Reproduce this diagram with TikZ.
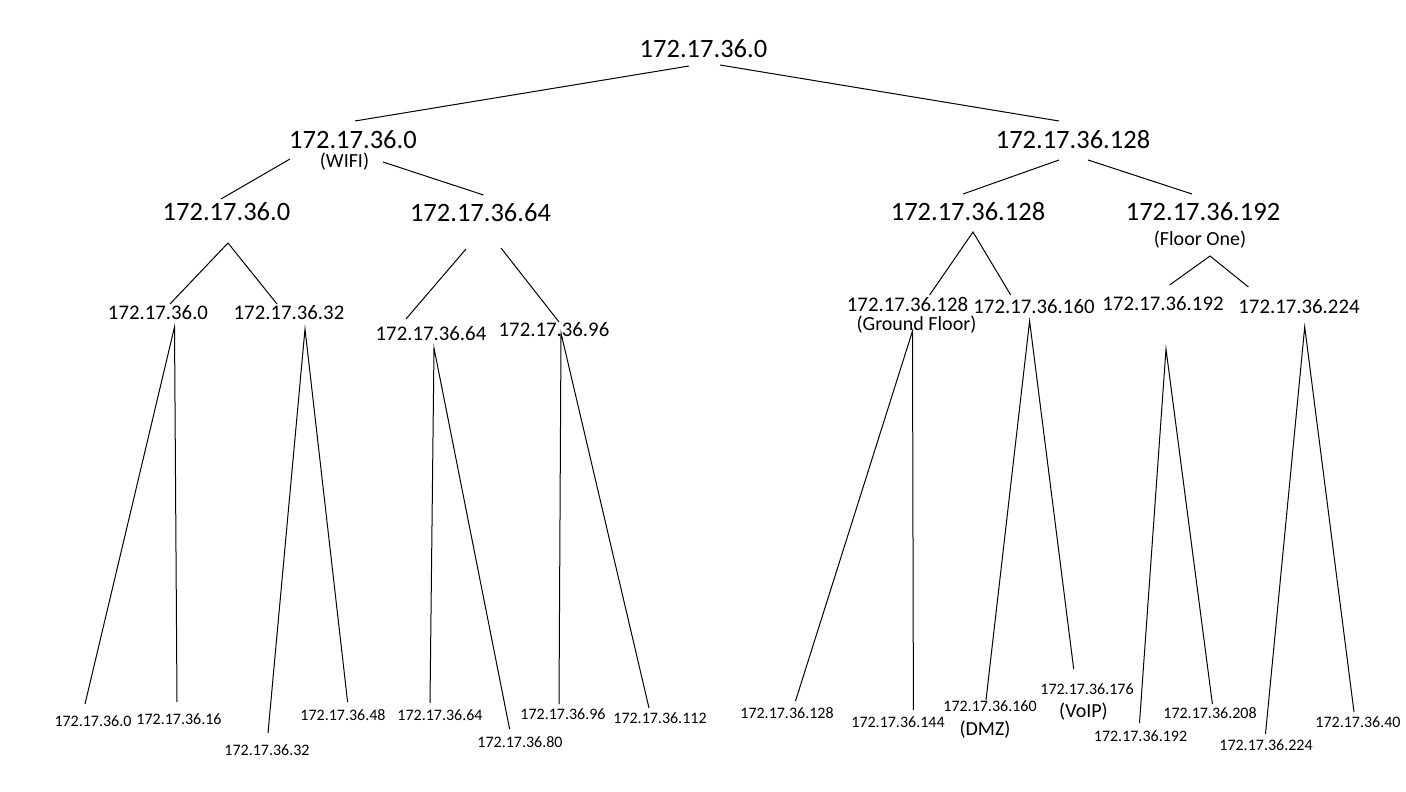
\documentclass[tikz,border=0pt]{standalone}
\usepackage{fontspec}
\setmainfont{Carlito}
\begin{document}
\begin{tikzpicture}[x=1pt,y=-1pt,
  big/.style={anchor=base,inner sep=0pt,font=\fontsize{26.5}{30}\selectfont},
  mid/.style={anchor=base,inner sep=0pt,font=\fontsize{20.8}{24}\selectfont},
  sml/.style={anchor=base,inner sep=0pt,font=\fontsize{16}{19}\selectfont},
  tag/.style={anchor=base,inner sep=0pt,font=\fontsize{20}{24}\selectfont},
  edge/.style={draw=black,line width=1pt}]
\useasboundingbox (0,0) rectangle (1406,792);
% --- text nodes ---
\node[big] (root) at (703.5,57.3) {172.17.36.0};
\node[big] (a) at (353,148) {172.17.36.0};
\node[tag] (wifi) at (344.5,167) {(WIFI)};
\node[big] (b) at (1073,148) {172.17.36.128};
\node[big] (aa) at (226.5,220) {172.17.36.0};
\node[big] (ab) at (480.5,221.7) {172.17.36.64};
\node[big] (ba) at (968,220.7) {172.17.36.128};
\node[big] (bb) at (1203,220.7) {172.17.36.192};
\node[tag] (floor1) at (1200,245.5) {(Floor One)};
\node[mid] (aaa) at (158,319) {172.17.36.0};
\node[mid] (aab) at (289,319) {172.17.36.32};
\node[mid] (aba) at (431,340) {172.17.36.64};
\node[mid] (abb) at (554,336) {172.17.36.96};
\node[mid] (baa) at (907.5,311.5) {172.17.36.128};
\node[tag] (ground) at (916.5,330.5) {(Ground Floor)};
\node[mid] (bab) at (1034,313) {172.17.36.160};
\node[mid] (bba) at (1163,310) {172.17.36.192};
\node[mid] (bbb) at (1299,313) {172.17.36.224};
% leaves
\node[sml] (l1) at (93,726) {172.17.36.0};
\node[sml] (l2) at (179,724) {172.17.36.16};
\node[sml] (l3) at (267,755) {172.17.36.32};
\node[sml] (l4) at (343,720) {172.17.36.48};
\node[sml] (l5) at (440,720) {172.17.36.64};
\node[sml] (l6) at (520,747) {172.17.36.80};
\node[sml] (l7) at (563,719) {172.17.36.96};
\node[sml] (l8) at (660,723) {172.17.36.112};
\node[sml] (l9) at (787,718) {172.17.36.128};
\node[sml] (l10) at (898,727) {172.17.36.144};
\node[sml] (l11) at (990,711.5) {172.17.36.160};
\node[tag] (dmz) at (985,735) {(DMZ)};
\node[sml] (l12) at (1087,694) {172.17.36.176};
\node[tag] (voip) at (1083.5,717) {(VoIP)};
\node[sml] (l13) at (1140.5,741.5) {172.17.36.192};
\node[sml] (l14) at (1210,718) {172.17.36.208};
\node[sml] (l15) at (1266,750.5) {172.17.36.224};
\node[sml] (l16) at (1358,727) {172.17.36.40};
% --- connector end points ---
\coordinate (rootL) at (689,66);   \coordinate (aT) at (355,121);
\coordinate (rootR) at (720,65);   \coordinate (bT) at (1059,121);
\coordinate (aL) at (290,159);     \coordinate (aaT) at (221,199);
\coordinate (aR) at (383,162);     \coordinate (abT) at (483.5,195);
\coordinate (bL) at (1059,160);    \coordinate (baT) at (963,194);
\coordinate (bR) at (1088,160);    \coordinate (bbT) at (1192,194);
\coordinate (aaB) at (228,243);    \coordinate (aaaT) at (170,304); \coordinate (aabT) at (277,304);
\coordinate (abBL) at (466,249);   \coordinate (abaT) at (406,319);
\coordinate (abBR) at (501,248);   \coordinate (abbT) at (559,322);
\coordinate (baB) at (973,232);    \coordinate (baaT) at (929.6,295); \coordinate (babT) at (1010.7,295);
\coordinate (bbB) at (1210,256);   \coordinate (bbaT) at (1169.6,285); \coordinate (bbbT) at (1248.4,287);
\coordinate (aaaB) at (174.5,327); \coordinate (l1T) at (85,704);   \coordinate (l2T) at (177,702);
\coordinate (aabB) at (305,329);   \coordinate (l3T) at (268,733);  \coordinate (l4T) at (347.6,702);
\coordinate (abaB) at (434,348);   \coordinate (l5T) at (430,703);  \coordinate (l6T) at (509.6,729);
\coordinate (abbB) at (561,333);   \coordinate (l7T) at (559,704);  \coordinate (l8T) at (649,708);
\coordinate (baaB) at (912.5,331); \coordinate (l9T) at (795.5,701); \coordinate (l10T) at (913.4,710);
\coordinate (babB) at (1029.6,321); \coordinate (l11T) at (986,700); \coordinate (l12T) at (1073.7,669);
\coordinate (bbaB) at (1166,349);  \coordinate (l13T) at (1139.5,723); \coordinate (l14T) at (1212.4,704);
\coordinate (bbbB) at (1304.7,327); \coordinate (l15T) at (1265.5,734); \coordinate (l16T) at (1354,712);
% --- connectors ---
\draw[edge] (rootL) -- (aT);
\draw[edge] (rootR) -- (bT);
\draw[edge] (aL) -- (aaT);
\draw[edge] (aR) -- (abT);
\draw[edge] (bL) -- (baT);
\draw[edge] (bR) -- (bbT);
\draw[edge] (aaaT) -- (aaB) -- (aabT);
\draw[edge] (abBL) -- (abaT);
\draw[edge] (abBR) -- (abbT);
\draw[edge] (baaT) -- (baB) -- (babT);
\draw[edge] (bbaT) -- (bbB) -- (bbbT);
\draw[edge] (l1T) -- (aaaB) -- (l2T);
\draw[edge] (l3T) -- (aabB) -- (l4T);
\draw[edge] (l5T) -- (abaB) -- (l6T);
\draw[edge] (l7T) -- (abbB) -- (l8T);
\draw[edge] (l9T) -- (baaB) -- (l10T);
\draw[edge] (l11T) -- (babB) -- (l12T);
\draw[edge] (l13T) -- (bbaB) -- (l14T);
\draw[edge] (l15T) -- (bbbB) -- (l16T);
\end{tikzpicture}
\end{document}
